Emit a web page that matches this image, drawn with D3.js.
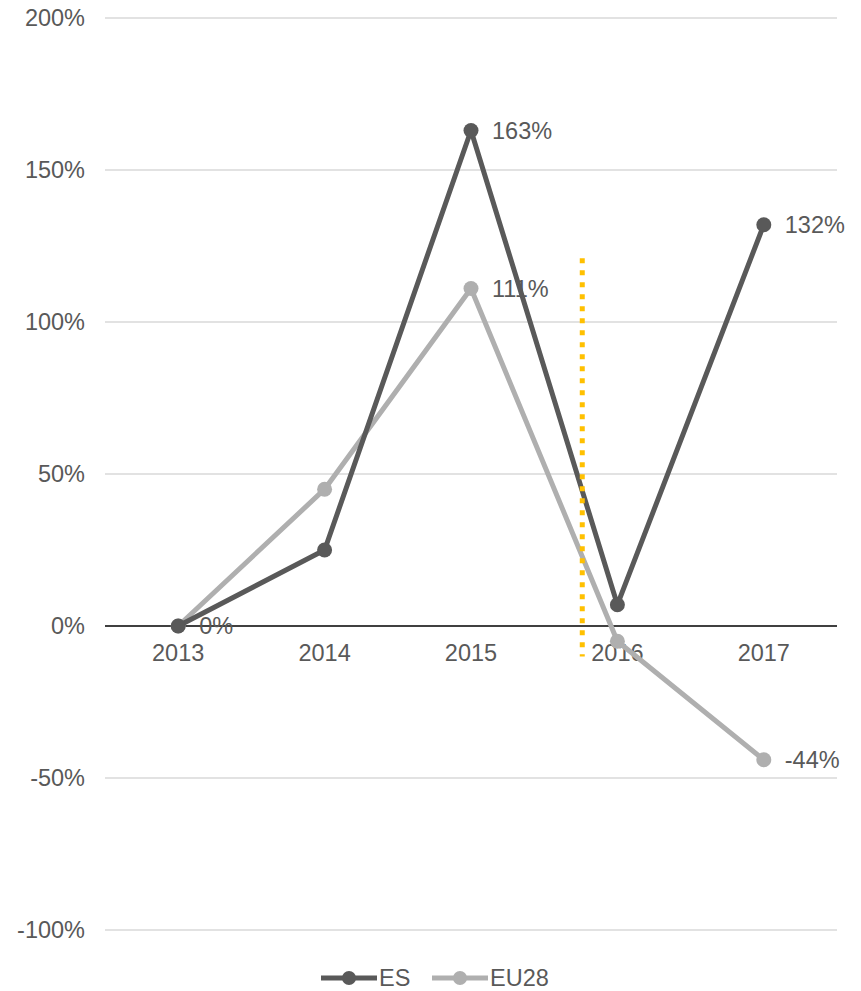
<!DOCTYPE html>
<html>
<head>
<meta charset="utf-8">
<script src="https://cdn.jsdelivr.net/npm/d3@7"></script>
<style>
  body { margin: 0; background: #fff; }
  text { font-family: "Liberation Sans", Arial, sans-serif; fill: #595959; }
</style>
</head>
<body>
<div id="chart"></div>
<script>
const years = ["2013", "2014", "2015", "2016", "2017"];
const esValues = [0, 25, 163, 7, 132];
const eu28Values = [0, 45, 111, -5, -44];
const yTicks = [-100, -50, 0, 50, 100, 150, 200];
// which points carry a value label
const esLabels = [false, false, true, false, true];
const eu28Labels = [true, false, true, false, true];
// dotted marker between 2015 and 2016
const markerPos = 2.76;
const markerRange = [121, -10];

const width = 861, height = 991;
const margin = {top: 18, right: 24, bottom: 61, left: 105};
const plotW = width - margin.left - margin.right;
const fontSize = "23.5px";

const svg = d3.select("#chart").append("svg")
    .attr("width", width)
    .attr("height", height);

const y = d3.scaleLinear().domain([-100, 200]).range([930, 18]);
const x = d3.scaleBand().domain(years).range([margin.left, margin.left + plotW]);
const xPos = d => x(d) + x.bandwidth() / 2;
const xIdx = i => margin.left + x.bandwidth() * (i + 0.5);

// gridlines
svg.append("g")
    .selectAll("line")
    .data(yTicks.filter(d => d !== 0))
    .join("line")
    .attr("x1", margin.left)
    .attr("x2", margin.left + plotW)
    .attr("y1", d => y(d))
    .attr("y2", d => y(d))
    .style("stroke", "#d9d9d9")
    .style("stroke-width", 1.3);

// y axis labels
svg.append("g")
    .selectAll("text")
    .data(yTicks)
    .join("text")
    .attr("x", 85)
    .attr("y", d => y(d))
    .attr("dy", "0.35em")
    .attr("text-anchor", "end")
    .style("font-size", fontSize)
    .text(d => d + "%");

// zero line
svg.append("line")
    .attr("x1", margin.left)
    .attr("x2", margin.left + plotW)
    .attr("y1", y(0))
    .attr("y2", y(0))
    .style("stroke", "#000")
    .style("stroke-width", 1.5);

// x labels
svg.append("g")
    .selectAll("text")
    .data(years)
    .join("text")
    .attr("x", d => xPos(d))
    .attr("y", y(0) + 35)
    .attr("text-anchor", "middle")
    .style("font-size", fontSize)
    .text(d => d);

function drawSeries(values, color) {
    const pts = values.map((v, i) => [xPos(years[i]), y(v)]);
    svg.append("path")
        .datum(pts)
        .attr("d", d3.line())
        .style("fill", "none")
        .style("stroke", color)
        .style("stroke-width", 5)
        .style("stroke-linejoin", "round");
    svg.append("g")
        .selectAll("circle")
        .data(pts)
        .join("circle")
        .attr("cx", d => d[0])
        .attr("cy", d => d[1])
        .attr("r", 7.5)
        .style("fill", color);
    return pts;
}

drawSeries(eu28Values, "#afafaf");
drawSeries(esValues, "#595959");

// dotted marker
svg.append("line")
    .attr("x1", xIdx(markerPos))
    .attr("x2", xIdx(markerPos))
    .attr("y1", y(markerRange[0]))
    .attr("y2", y(markerRange[1]))
    .style("stroke", "#ffc000")
    .style("stroke-width", 5)
    .style("stroke-dasharray", "5 7");

function drawLabels(values, labels) {
    svg.append("g")
        .selectAll("text")
        .data(values.map((v, i) => ({v: v, i: i})).filter(d => labels[d.i]))
        .join("text")
        .attr("x", d => xPos(years[d.i]) + 21)
        .attr("y", d => y(d.v))
        .attr("dy", "0.35em")
        .style("font-size", fontSize)
        .text(d => d.v + "%");
}
drawLabels(esValues, esLabels);
drawLabels(eu28Values, eu28Labels);

// legend
const legend = svg.append("g").attr("transform", "translate(0," + 978 + ")");
const legendItems = [
    {name: "ES", color: "#595959", x: 321},
    {name: "EU28", color: "#afafaf", x: 432}
];
legendItems.forEach(function (item) {
    legend.append("line")
        .attr("x1", item.x)
        .attr("x2", item.x + 56)
        .attr("y1", 0)
        .attr("y2", 0)
        .style("stroke", item.color)
        .style("stroke-width", 5);
    legend.append("circle")
        .attr("cx", item.x + 28)
        .attr("cy", 0)
        .attr("r", 7)
        .style("fill", item.color);
    legend.append("text")
        .attr("x", item.x + 58)
        .attr("y", 0)
        .attr("dy", "0.35em")
        .style("font-size", fontSize)
        .text(item.name);
});
</script>
</body>
</html>
